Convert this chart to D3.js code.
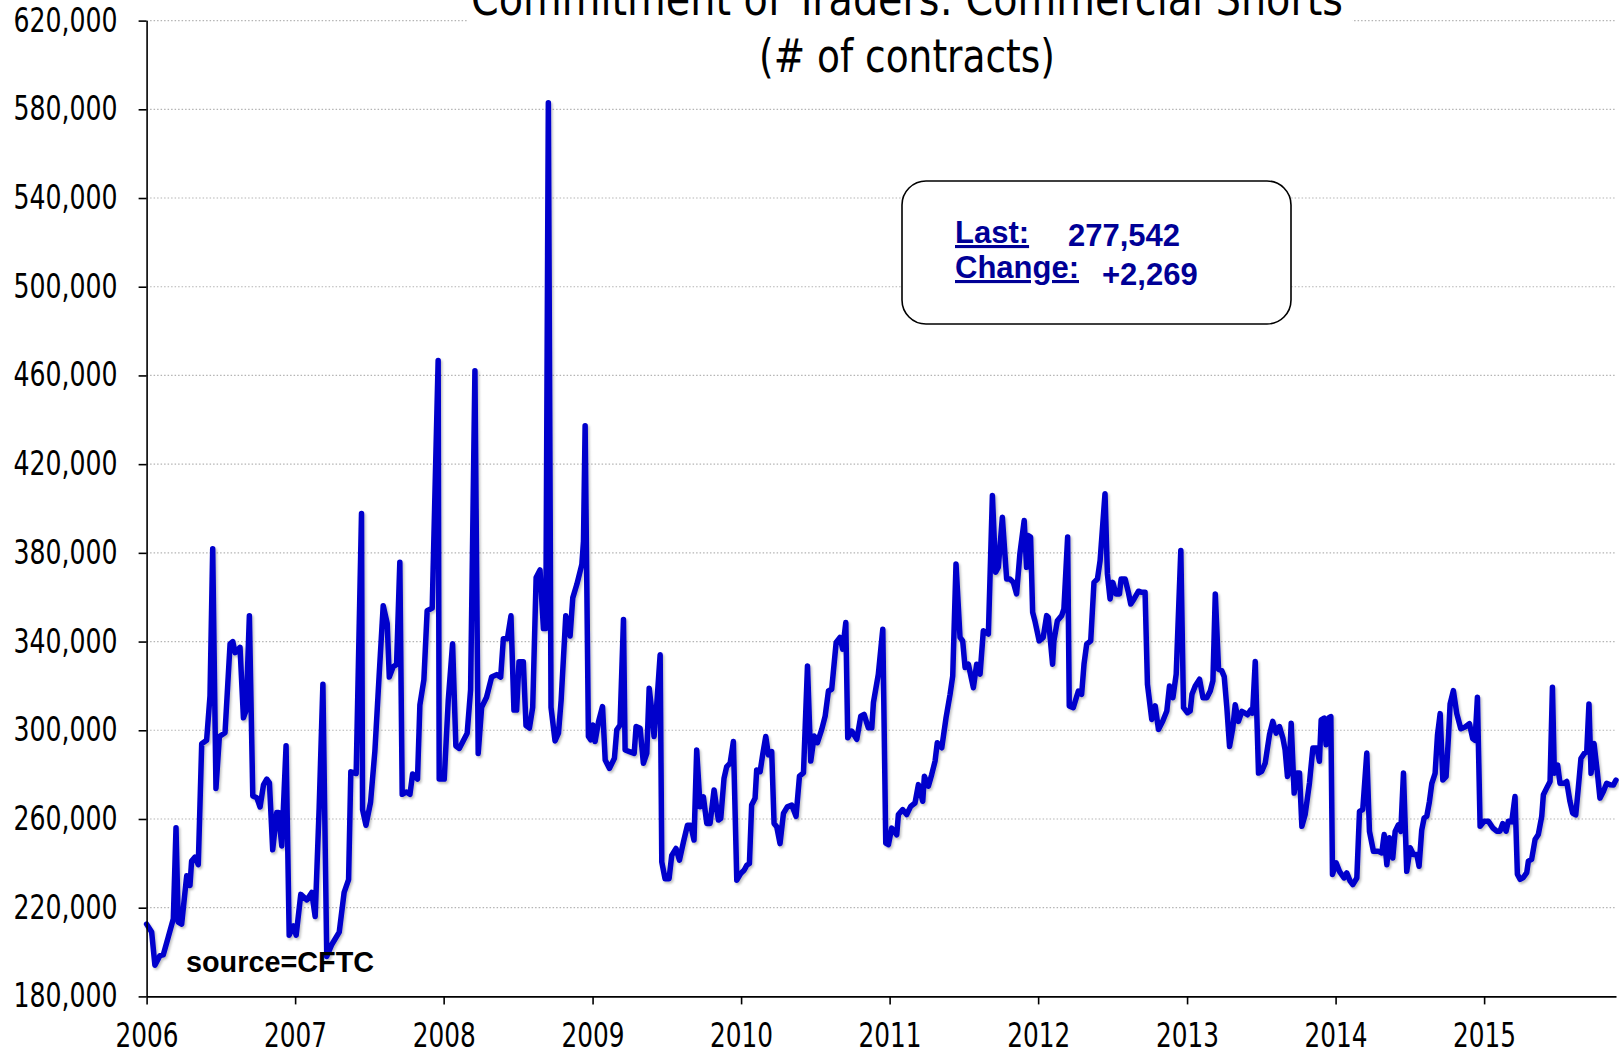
<!DOCTYPE html>
<html>
<head>
<meta charset="utf-8">
<script src="https://cdn.jsdelivr.net/npm/d3@7"></script>
<style>
  html, body { margin: 0; padding: 0; background: #fff; }
  svg { display: block; }
</style>
</head>
<body>
<div id="chart"></div>
<script>
// Commitment of Traders: commercial shorts, weekly (dates as decimal years, values in thousands of contracts)
const weeks = [
  2006.000, 2006.034, 2006.056, 2006.090, 2006.112, 2006.146, 2006.180, 2006.198, 2006.213, 2006.236,
  2006.270, 2006.292, 2006.303, 2006.326, 2006.348, 2006.371, 2006.404, 2006.427, 2006.445, 2006.467,
  2006.490, 2006.528, 2006.562, 2006.580, 2006.596, 2006.629, 2006.652, 2006.670, 2006.692, 2006.715,
  2006.742, 2006.764, 2006.787, 2006.809, 2006.827, 2006.849, 2006.876, 2006.888, 2006.910, 2006.939,
  2006.960, 2006.989, 2007.007, 2007.038, 2007.079, 2007.112, 2007.135, 2007.162, 2007.187, 2007.213,
  2007.247, 2007.297, 2007.330, 2007.360, 2007.375, 2007.411,
  2007.447, 2007.454, 2007.477, 2007.508, 2007.537, 2007.566, 2007.593, 2007.620, 2007.634, 2007.660,
  2007.683, 2007.705, 2007.721, 2007.750, 2007.773, 2007.791, 2007.824, 2007.840, 2007.867, 2007.889,
  2007.923, 2007.963, 2007.970, 2008.004, 2008.031, 2008.060, 2008.082, 2008.105, 2008.131, 2008.158,
  2008.181, 2008.210, 2008.232, 2008.255, 2008.288, 2008.322, 2008.356, 2008.383, 2008.401, 2008.428,
  2008.452, 2008.472, 2008.490, 2008.506, 2008.535, 2008.553, 2008.576, 2008.598, 2008.621, 2008.647,
  2008.670, 2008.686, 2008.703, 2008.721, 2008.748, 2008.771, 2008.789, 2008.820, 2008.849,
  2008.867, 2008.894, 2008.928, 2008.939, 2008.950, 2008.972, 2008.988, 2009.002, 2009.017, 2009.040,
  2009.067, 2009.085, 2009.114, 2009.147, 2009.163, 2009.185, 2009.208, 2009.219, 2009.248, 2009.280,
  2009.293, 2009.320, 2009.342, 2009.365, 2009.381, 2009.399, 2009.414, 2009.432, 2009.455, 2009.466,
  2009.488, 2009.515, 2009.533, 2009.562, 2009.585, 2009.612, 2009.639, 2009.661, 2009.683, 2009.701,
  2009.724, 2009.746, 2009.769, 2009.791, 2009.818, 2009.847, 2009.863, 2009.885, 2009.903, 2009.926,
  2009.948, 2009.971, 2009.997, 2010.020, 2010.038, 2010.056, 2010.071, 2010.094, 2010.105, 2010.128,
  2010.145, 2010.166, 2010.184, 2010.206, 2010.222, 2010.240, 2010.262, 2010.285, 2010.311, 2010.341,
  2010.370, 2010.393, 2010.420, 2010.447, 2010.469, 2010.492, 2010.514, 2010.543, 2010.566, 2010.588,
  2010.610, 2010.640, 2010.666, 2010.684, 2010.705, 2010.718, 2010.745, 2010.779, 2010.806, 2010.828,
  2010.857, 2010.880, 2010.891, 2010.924, 2010.954, 2010.974, 2010.992, 2011.014, 2011.048, 2011.059,
  2011.088, 2011.115, 2011.142, 2011.171, 2011.194, 2011.223, 2011.234, 2011.261, 2011.283, 2011.306,
  2011.321, 2011.351, 2011.380, 2011.407, 2011.425, 2011.447, 2011.474, 2011.492, 2011.508, 2011.530,
  2011.564, 2011.586, 2011.609, 2011.631, 2011.665, 2011.692, 2011.714, 2011.732, 2011.759, 2011.788,
  2011.810, 2011.833,
  2011.855, 2011.877, 2011.906, 2011.922, 2011.933, 2011.949, 2011.963, 2011.978, 2012.007, 2012.034,
  2012.057, 2012.068, 2012.097, 2012.106, 2012.129, 2012.158, 2012.173, 2012.198, 2012.209, 2012.236,
  2012.270, 2012.292, 2012.308, 2012.326, 2012.353, 2012.375, 2012.398, 2012.416, 2012.449, 2012.465,
  2012.483, 2012.501, 2012.523, 2012.546, 2012.557, 2012.584, 2012.606, 2012.622, 2012.644, 2012.674,
  2012.696, 2012.718, 2012.734, 2012.763, 2012.786, 2012.808, 2012.837, 2012.864, 2012.882, 2012.905,
  2012.927, 2012.958, 2012.976, 2013.003, 2013.021, 2013.033, 2013.055, 2013.084, 2013.107, 2013.133,
  2013.156, 2013.174, 2013.190, 2013.212, 2013.234,
  2013.250, 2013.268, 2013.286, 2013.308, 2013.324, 2013.346, 2013.369, 2013.391, 2013.407, 2013.429,
  2013.441, 2013.459, 2013.481, 2013.503, 2013.526, 2013.555, 2013.577, 2013.600, 2013.622, 2013.645,
  2013.660, 2013.676, 2013.687, 2013.701, 2013.721, 2013.739, 2013.757, 2013.773, 2013.795, 2013.824,
  2013.847, 2013.874, 2013.891, 2013.903, 2013.923, 2013.936, 2013.952, 2013.968, 2013.979, 2014.004,
  2014.026, 2014.057, 2014.075, 2014.098, 2014.116, 2014.143, 2014.161, 2014.183, 2014.210, 2014.228,
  2014.255, 2014.289, 2014.311, 2014.327, 2014.345, 2014.363, 2014.385, 2014.401, 2014.423, 2014.439,
  2014.457, 2014.479, 2014.502, 2014.524, 2014.547, 2014.562,
  2014.580, 2014.596, 2014.614, 2014.632, 2014.648, 2014.670, 2014.686, 2014.704, 2014.722, 2014.744,
  2014.760, 2014.771, 2014.793, 2014.816, 2014.843, 2014.872, 2014.901, 2014.923, 2014.939, 2014.955,
  2014.973, 2015.000, 2015.029, 2015.058, 2015.085, 2015.107, 2015.125, 2015.148, 2015.163, 2015.186,
  2015.208, 2015.224, 2015.242, 2015.264, 2015.287, 2015.298, 2015.320, 2015.343, 2015.365, 2015.388,
  2015.399, 2015.421, 2015.444, 2015.460, 2015.473, 2015.495, 2015.511, 2015.538, 2015.556, 2015.578,
  2015.596, 2015.617, 2015.634, 2015.652, 2015.675, 2015.691, 2015.706, 2015.720, 2015.740, 2015.762,
  2015.780, 2015.803, 2015.825, 2015.848, 2015.870, 2015.888
];
const shortsK = [
  212.6, 209.0, 194.0, 198.4, 198.7, 206.8, 215.0, 256.0, 213.5, 212.6,
  234.4, 230.0, 241.0, 242.8, 239.4, 293.9, 295.5, 315.6, 381.8, 273.8,
  297.2, 298.9, 339.0, 340.0, 335.0, 337.4, 305.6, 309.0, 351.6, 270.4,
  269.6, 265.4, 275.4, 278.0, 276.3, 246.1, 262.9, 262.9, 247.8, 293.0,
  207.6, 211.8, 207.6, 226.0, 223.5, 226.9, 216.0, 265.4, 320.7, 198.0,
  203.4, 209.0, 226.9, 232.7, 281.3, 280.5,
  397.7, 264.2, 257.2, 267.6, 290.6, 325.1, 356.2, 348.2, 324.0, 328.6,
  329.7, 375.8, 271.1, 272.2, 271.1, 280.3, 278.0, 311.4, 322.8, 353.9,
  355.1, 466.7, 278.0, 278.0, 313.6, 339.0, 292.9, 291.8, 295.2, 298.7,
  318.3, 462.1, 289.5, 310.3, 314.9, 324.0, 325.1, 324.0, 341.3, 341.3,
  351.6, 309.1, 309.1, 330.9, 330.9, 302.1, 301.0, 310.3, 368.9, 372.3,
  345.9, 345.9, 583.0, 310.3, 295.2, 298.7, 313.6, 351.6, 342.5,
  359.7, 365.7, 374.8, 385.3, 437.3, 297.2, 295.7, 302.4, 294.9, 303.9,
  310.7, 286.6, 282.8, 287.4, 300.2, 302.4, 349.9, 291.1, 290.4, 289.6,
  301.7, 300.9, 285.1, 289.6, 319.0, 308.5, 297.2, 311.5, 334.1, 240.6,
  233.1, 233.1, 243.6, 246.7, 241.4, 249.7, 257.2, 257.2, 250.5, 291.1,
  265.5, 270.0, 258.0, 258.0, 273.1, 259.5, 260.2, 278.3, 283.6, 285.1,
  294.9, 232.4, 235.4, 236.9, 239.1, 239.9, 266.3, 269.3, 282.1, 281.3,
  288.9, 297.2, 288.9, 290.4, 258.0, 256.5, 248.9, 262.5, 265.5, 266.3,
  261.2, 279.3, 280.8, 329.0, 286.1, 297.4, 294.4, 300.4, 306.4, 317.7,
  318.5, 339.6, 341.9, 336.6, 348.6, 296.6, 299.6, 295.9, 306.4, 307.2,
  301.1, 301.1, 312.5, 325.3, 345.6, 249.1, 248.4, 255.9, 252.9, 262.0,
  264.2, 262.0, 265.7, 267.2, 275.5, 268.0, 279.3, 274.8, 280.0, 286.1,
  294.4, 292.1, 305.7, 316.2, 324.5, 375.0, 341.9, 340.3, 328.3, 329.8,
  319.2, 329.8, 325.3, 344.9, 343.4, 405.9, 371.3, 373.5, 396.1, 368.2,
  368.2, 366.7,
  361.5, 379.5, 394.6, 373.5, 387.8, 387.1, 353.2, 349.4, 340.3, 341.9,
  351.7, 350.9, 329.8, 340.3, 349.4, 351.7, 354.7, 387.1, 311.0, 310.2,
  317.7, 316.2, 329.8, 338.8, 340.3, 366.7, 368.2, 376.5, 406.7, 370.5,
  359.2, 366.7, 361.5, 361.5, 368.2, 368.2, 362.2, 356.9, 359.2, 362.7,
  362.2, 362.2, 320.7, 304.9, 311.0, 300.4, 304.2, 308.7, 320.0, 314.7,
  325.3, 381.1, 310.2, 307.9, 308.7, 316.2, 320.0, 323.0, 314.7, 314.7,
  317.7, 322.3, 361.5, 327.5, 326.8,
  324.2, 310.0, 292.7, 301.0, 311.5, 304.0, 308.5, 307.7, 307.0, 309.2,
  307.7, 331.0, 280.7, 281.5, 285.2, 298.0, 304.0, 298.7, 301.7, 296.5,
  291.2, 279.2, 281.5, 303.2, 271.7, 280.7, 280.7, 256.7, 262.0, 276.2,
  292.0, 292.0, 286.0, 304.7, 305.5, 293.5, 305.5, 306.2, 235.0, 240.2,
  236.4, 233.4, 235.7, 232.0, 230.4, 233.4, 263.4, 264.2, 289.7, 254.4,
  245.4, 245.4, 244.7, 253.0, 239.4, 251.5, 242.4, 254.4, 257.4, 254.4,
  280.7, 236.4, 247.0, 244.0, 244.0, 238.7,
  255.0, 260.4, 261.2, 267.9, 276.1, 280.6, 297.8, 307.5, 277.6, 279.1,
  297.0, 311.9, 317.9, 307.5, 300.7, 301.5, 303.0, 296.3, 295.5, 314.9,
  256.7, 259.0, 259.0, 256.0, 254.5, 254.5, 257.9, 254.5, 259.0, 258.7,
  270.1, 235.1, 232.8, 233.6, 235.8, 241.0, 241.8, 250.7, 253.0, 261.2,
  270.9, 273.9, 276.9, 319.4, 280.6, 284.3, 276.1, 276.1, 276.9, 267.9,
  262.7, 261.9, 273.9, 287.3, 289.6, 290.3, 311.9, 280.6, 294.0, 281.3,
  269.4, 272.4, 276.1, 275.4, 275.273, 277.542
];
const yTicks = [180000, 220000, 260000, 300000, 340000, 380000, 420000, 460000, 500000, 540000, 580000, 620000];
const xTickYears = [2006, 2007, 2008, 2009, 2010, 2011, 2012, 2013, 2014, 2015];
const titleLines = ["Commitment of Traders: Commercial Shorts", "(# of contracts)"];
const lastValue = "277,542";
const changeValue = "+2,269";

const W = 1619, H = 1055;
const plot = { left: 146.6, right: 1616, top: 20.6, bottom: 996.4 };
const narrowFont = '"Liberation Sans Narrow", "Arial Narrow", "DejaVu Sans Condensed", sans-serif';

function yearToDate(y){
  const yr = Math.floor(y);
  const a = Date.UTC(yr, 0, 1), b = Date.UTC(yr + 1, 0, 1);
  return new Date(a + (y - yr) * (b - a));
}

const data = weeks.map((w, i) => ({ date: yearToDate(w), value: shortsK[i] * 1000 }));

const svg = d3.select('#chart').append('svg')
  .attr('width', W).attr('height', H)
  .attr('viewBox', `0 0 ${W} ${H}`);
svg.append('rect').attr('width', W).attr('height', H).attr('fill', '#fff');

const x = d3.scaleUtc()
  .domain([yearToDate(2006), yearToDate(2015.888)])
  .range([plot.left, plot.right]);
const y = d3.scaleLinear()
  .domain([180000, 620000])
  .range([plot.bottom, plot.top]);

// dotted gridlines
svg.append('g').selectAll('line').data(yTicks.slice(1)).join('line')
  .attr('x1', plot.left).attr('x2', plot.right)
  .attr('y1', d => y(d)).attr('y2', d => y(d))
  .attr('stroke', '#b4b4b4').attr('stroke-width', 1.2)
  .attr('stroke-dasharray', '1.5,2');

// title with white backing (narrow face squeezed to the reference widths)
const titleWidths = [872, 296];
const titleG = svg.append('g');
titleG.append('rect').attr('x', 468).attr('y', 0).attr('width', 884).attr('height', 84).attr('fill', '#fff');
titleG.selectAll('text').data(titleLines).join('text')
  .attr('x', 907).attr('y', (d, i) => 15 + i * 57)
  .attr('text-anchor', 'middle')
  .attr('font-family', narrowFont)
  .attr('font-size', 47)
  .attr('textLength', (d, i) => titleWidths[i])
  .attr('lengthAdjust', 'spacingAndGlyphs')
  .attr('fill', '#000')
  .text(d => d);

// drop shadow for the series line
const defs = svg.append('defs');
const f = defs.append('filter').attr('id', 'shadow').attr('x', '-5%').attr('y', '-5%').attr('width', '110%').attr('height', '110%');
f.append('feDropShadow').attr('dx', 1.5).attr('dy', 2).attr('stdDeviation', 1.2)
  .attr('flood-color', '#000').attr('flood-opacity', 0.25);

const line = d3.line().x(d => x(d.date)).y(d => y(d.value));
svg.append('path').datum(data)
  .attr('fill', 'none')
  .attr('stroke', '#0000cc')
  .attr('stroke-width', 5.5)
  .attr('stroke-linejoin', 'round')
  .attr('stroke-linecap', 'round')
  .attr('filter', 'url(#shadow)')
  .attr('d', line);

// axes
const yAxis = svg.append('g')
  .attr('transform', `translate(${plot.left},0)`)
  .call(d3.axisLeft(y).tickValues(yTicks).tickFormat(d3.format(',')).tickSize(8).tickSizeOuter(0).tickPadding(21));
const xAxis = svg.append('g')
  .attr('transform', `translate(0,${plot.bottom})`)
  .call(d3.axisBottom(x).tickValues(xTickYears.map(yr => yearToDate(yr))).tickFormat(d3.utcFormat('%Y')).tickSize(8).tickSizeOuter(0).tickPadding(19));
[yAxis, xAxis].forEach(g => {
  g.select('.domain').attr('stroke', '#000').attr('stroke-width', 1.6);
  g.selectAll('.tick line').attr('stroke', '#000').attr('stroke-width', 1.6);
  g.selectAll('.tick text').attr('font-size', 33).attr('fill', '#000')
    .attr('font-family', narrowFont)
    .attr('lengthAdjust', 'spacingAndGlyphs');
});
yAxis.selectAll('.tick text').attr('textLength', 104);
xAxis.selectAll('.tick text').attr('textLength', 63);

// annotation box
const box = svg.append('g');
box.append('rect').attr('x', 902).attr('y', 181).attr('width', 389).attr('height', 143)
  .attr('rx', 24).attr('ry', 24)
  .attr('fill', '#fff').attr('stroke', '#000').attr('stroke-width', 1.6);
const boxFont = '"Liberation Sans", Arial, sans-serif';
const navy = '#000096';
box.append('text').attr('x', 955).attr('y', 243).text('Last:')
  .attr('font-family', boxFont).attr('font-weight', 'bold').attr('font-size', 31)
  .attr('fill', navy).style('text-decoration', 'underline');
box.append('text').attr('x', 1068).attr('y', 246).text(lastValue)
  .attr('font-family', boxFont).attr('font-weight', 'bold').attr('font-size', 31).attr('fill', navy);
box.append('text').attr('x', 955).attr('y', 278).text('Change:')
  .attr('font-family', boxFont).attr('font-weight', 'bold').attr('font-size', 31)
  .attr('fill', navy).style('text-decoration', 'underline');
box.append('text').attr('x', 1102).attr('y', 285).text(changeValue)
  .attr('font-family', boxFont).attr('font-weight', 'bold').attr('font-size', 31).attr('fill', navy);

// source note
svg.append('text').attr('x', 186).attr('y', 972).text('source=CFTC')
  .attr('font-family', boxFont).attr('font-weight', 'bold').attr('font-size', 28.8).attr('fill', '#000');
</script>
</body>
</html>
